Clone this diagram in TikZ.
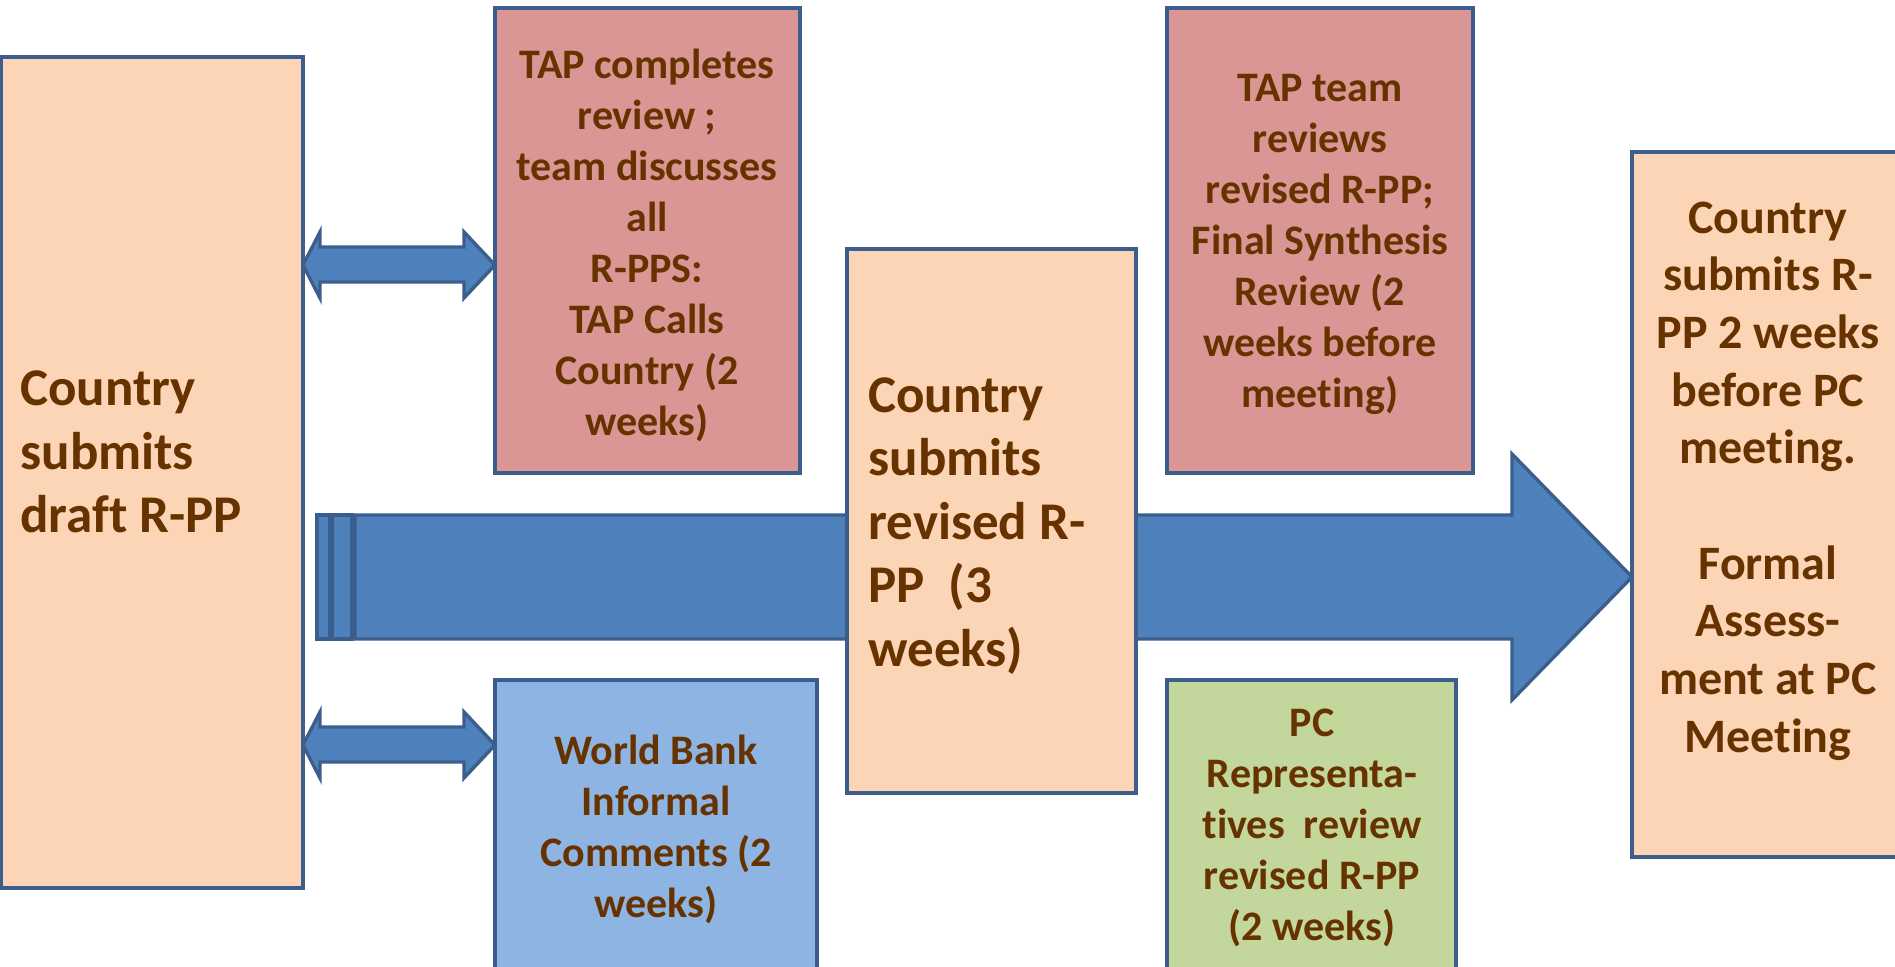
\documentclass[tikz,border=0pt]{standalone}
\usepackage{fontspec}
\setmainfont[Ligatures=NoCommon]{Carlito}
\definecolor{peach}{HTML}{FBD5B5}
\definecolor{rose}{HTML}{D99694}
\definecolor{sky}{HTML}{8EB4E3}
\definecolor{sage}{HTML}{C3D69B}
\definecolor{edgeblue}{HTML}{3B5E8C}
\definecolor{arrowblue}{HTML}{4F81BD}
\definecolor{txt}{HTML}{663300}
\begin{document}
\begin{tikzpicture}[x=0.5pt,y=-0.5pt,
  box/.style={draw=edgeblue, line width=2pt},
  arr/.style={draw=edgeblue, fill=arrowblue, line width=1.7pt, line join=miter},
  lbl/.style={text=txt, font=\bfseries, inner sep=0pt},
  bigtxt/.style={lbl, align=left, font=\bfseries\fontsize{26.5}{31.8}\selectfont},
  midtxt/.style={lbl, align=center, font=\bfseries\fontsize{24}{28.85}\selectfont},
  smtxt/.style={lbl, align=center, font=\bfseries\fontsize{21}{25.5}\selectfont},
]
\useasboundingbox (0,0) rectangle (1895,967);
\clip (0,0) rectangle (1895,967);

% big arrow (under the middle box)
\draw[arr] (317,515) rectangle (330,639);
\draw[arr] (332,515) rectangle (352,639);
\draw[arr] (355,515) -- (1512,515) -- (1512,454) -- (1632,577) -- (1512,700)
  -- (1512,639) -- (355,639) -- cycle;

% boxes
\draw[box, fill=peach] (1,57) rectangle (303,888);
\draw[box, fill=rose] (495,8) rectangle (800,473);
\draw[box, fill=rose] (1167,8) rectangle (1473,473);
\draw[box, fill=peach] (847,249) rectangle (1136,793);
\draw[box, fill=peach] (1632,152) rectangle (1910,857);
\draw[box, fill=sky] (495,680) rectangle (817,990);
\draw[box, fill=sage] (1167,680) rectangle (1456,990);

% double arrows
\draw[arr] (303,265) -- (320,232) -- (320,247) -- (464,247) -- (464,232) -- (495,265)
  -- (464,298) -- (464,282) -- (320,282) -- (320,298) -- cycle;
\draw[arr] (303,745) -- (320,712) -- (320,727) -- (464,727) -- (464,712) -- (495,745)
  -- (464,778) -- (464,762) -- (320,762) -- (320,778) -- cycle;

% texts
\node[bigtxt, anchor=west] (draft) at (20,452) {Country\\submits\\draft R-PP};
\node[bigtxt, anchor=west] (revised) at (868,526) {Country\\submits\\revised R-\\PP~~(3\\weeks)};
\node[smtxt] (tap1) at (647,245) {TAP completes\\review ;\\team discusses\\all\\R-PPS:\\TAP Calls\\Country (2\\weeks)};
\node[smtxt] (tap2) at (1320,244) {TAP team\\reviews\\revised R-PP;\\Final Synthesis\\Review (2\\weeks before\\meeting)};
\node[midtxt] (final) at (1768,481) {Country\\submits R-\\PP 2 weeks\\before PC\\meeting.\\ \\Formal\\Assess-\\ment at PC\\Meeting};
\node[smtxt] (wb) at (656,829) {World Bank\\Informal\\Comments (2\\weeks)};
\node[smtxt] (pc) at (1312,828) {PC\\Representa-\\tives~ review\\revised R-PP\\(2 weeks)};
\end{tikzpicture}
\end{document}
